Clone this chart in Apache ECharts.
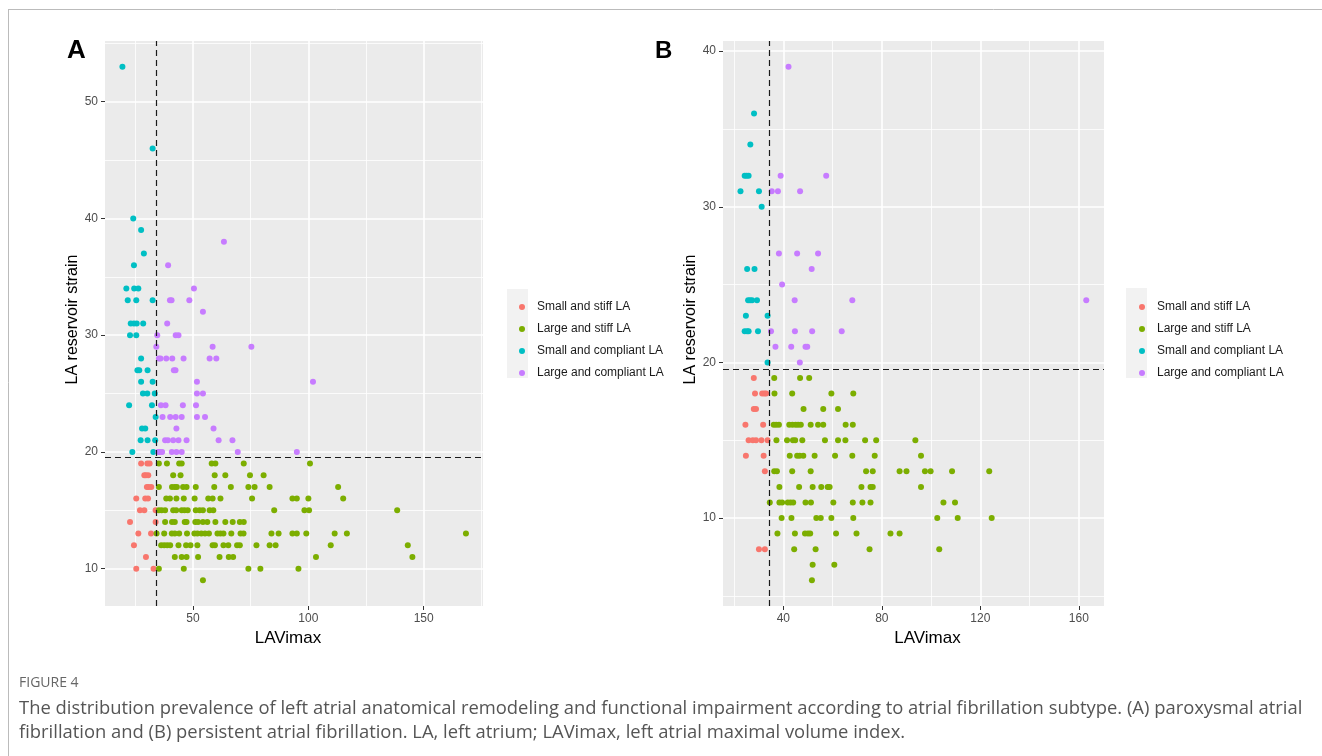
<!DOCTYPE html>
<html><head><meta charset="utf-8">
<script src="https://cdn.jsdelivr.net/npm/echarts@6/dist/echarts.min.js"></script>
<style>html,body{margin:0;padding:0;background:#fff;}#c{width:1322px;height:756px;}</style>
</head><body><div id="c"></div><script>
const seriesNames = ['Small and stiff LA','Large and stiff LA','Small and compliant LA','Large and compliant LA'];
const colors = ['#F8766D','#7CAE00','#00BFC4','#C77CFF'];

// Panel A (paroxysmal AF): rows of [LA reservoir strain, [LAVimax values]]
const aSmallStiff = [
  [19,[27.5,30.2,31.2]],[18,[28.9,29.6,30.6]],[17,[30,30.8,31.9]],[16,[25.4,29.3,30.5]],
  [15,[27,28.9,33.8]],[14,[22.7,33.8]],[13,[26.3,31.8]],[12,[24.4]],[11,[29.6]],[10,[25.4,32.9]]
];
const aLargeStiff = [
  [19,[35.2,38.7,44,45.1,58.1,59.7,72,100.7]],
  [18,[41.4,44.6,59.4,64,74.7,80.6]],
  [17,[35.2,40.9,42.1,43,45.7,47.2,51.2,59.2,66.4,74,76.7,83.2,112.9]],
  [16,[38.4,40,42.8,46,50.7,56.6,58.5,61.9,75.6,93.1,95,100,115.1]],
  [15,[35.2,36.4,37.9,41.4,42.7,45.1,46.3,47.7,51.2,52.9,54.3,57.2,58.8,85.2,98.3,100.3,138.5]],
  [14,[37.9,40.9,42.1,46.4,47.2,51,52.2,54.3,56.2,59.7,64,67.2,70.3,72]],
  [13,[34.2,37.5,40.8,42.1,44,47.4,50.6,51.9,53.6,55.2,56.9,60.6,61.9,63.2,66.6,70.6,71.9,84,87.1,93.1,95,99.1,111.4,116.7,168.3]],
  [12,[36.2,37.5,38.8,40.1,43.7,47,48.9,51.9,58.5,59.5,63.2,65.3,69.1,70.3,77.5,83.2,85.8,109.7,143.1]],
  [11,[42.1,45.1,47.2,52.2,61.5,65.5,67.4,103.3,145.1]],
  [10,[35.2,46,74,79.2,95.7]],
  [9,[54.3]]
];
const aSmallCompliant = [
  [53,[19.4]],[46,[32.5]],[40,[24.1]],[39,[27.5]],[37,[28.7]],[36,[24.4]],
  [34,[21.1,24.5,26.3]],[33,[21.7,25.4,32.5]],[31,[23,24.4,25.6,28.4]],[30,[22.7,25.4]],
  [28,[27.5]],[27,[25.9,26.7,30.3]],[26,[27.5,32.5]],[25,[28.3,30.2,33.4]],[24,[22.3,32.2]],
  [23,[33.8]],[22,[27.9,29.3]],[21,[27.3,30.3,33.6]],[20,[23.7,32.8]]
];
const aLargeCompliant = [
  [38,[63.4]],[36,[39.2]],[34,[50.4]],[33,[40,40.7,48.4]],[32,[54.3]],[31,[38.8]],
  [30,[34.5,42.5,43.7]],[29,[34.1,58.5,75.3]],[28,[35.2,35.9,38.4,41,45.9,57.2,60.1]],
  [27,[41.7,42.4]],[26,[51.7,102]],[25,[51.7,54.3]],[24,[36.1,38.1,45.6,51.3]],
  [23,[36.8,40.1,42.5,45.1,51.7,55.2]],[22,[42.8,58.9]],
  [21,[37.9,39.1,41.4,43.7,47.2,61.1,67.1]],[20,[34.9,35.6,36.6,40.8,42.8,45.1,69.4,95]]
];

// Panel B (persistent AF)
const bSmallStiff = [
  [19,[28]],[18,[28.5,31.4,32.3,33]],[17,[28,28.9]],[16,[24.6,31.8]],
  [15,[25.9,27.6,28.9,31.1,33.6]],[14,[24.8,32]],[13,[32.5]],[8,[30.1,32.5]]
];
const bLargeStiff = [
  [19,[36.3,46.8,50.5]],[18,[36.4,43.6,59.5,68.4]],[17,[48.2,56.2,62.2]],
  [16,[36.1,37.1,38.2,42.4,43.7,45,46,47.1,51.1,54.1,56.2,65.3,68.2]],
  [15,[37.2,41.5,43.9,44.8,47.7,56.9,62.2,65.2,73.2,77.7,93.6]],
  [14,[42.6,45.6,46.6,48.1,52.7,61,68,77.1,95.9]],
  [13,[36.3,37.4,43.6,51.1,73.6,76.3,87.2,90,97.5,99.8,108.5,123.6]],
  [12,[38.4,46.4,51.9,55.4,58,58.8,71.7,75.4,76.3,95.9]],
  [11,[34.5,38.4,39.5,41.8,42.9,44,49,51.2,60.3,68.2,72.1,75.4,105,109.7]],
  [10,[39.3,43.3,53.4,55.2,59.5,68.4,102.5,110.8,124.6]],
  [9,[37.6,44.7,48.8,50,50.9,61.4,69.7,83.5,87.2]],
  [8,[44.4,53.1,75,103.3]],[7,[51.9,60.7]],[6,[51.6]]
];
const bSmallCompliant = [
  [36,[28.1]],[34,[26.6]],[32,[24.3,25.1,25.9]],[31,[22.6,30.1]],[30,[31.2]],
  [26,[25.3,28.3]],[24,[25.7,26.5,27.3,29.3]],[23,[24.8,33.6]],[22,[24.3,25.3,25.9,29.7]],[20,[33.6]]
];
const bLargeCompliant = [
  [39,[42.1]],[32,[38.9,57.4]],[31,[35.3,37.8,46.8]],[27,[38.2,45.6,54.1]],[26,[51.5]],
  [25,[39.5]],[24,[44.6,68,163]],[22,[35,44.7,51.7,63.7]],[21,[36.8,43.2,49,49.7]],[20,[46.7]]
];

// Axis ticks / grid breaks
const aXTicks = [50,100,150], aXMinor = [25,75,125,175];
const aYTicks = [10,20,30,40,50], aYMinor = [15,25,35,45,55];
const bXTicks = [40,80,120,160], bXMinor = [20,60,100,140];
const bYTicks = [10,20,30,40], bYMinor = [5,15,25,35];
const aRange = {xMin:11.85, xMax:175.7, yMin:6.8, yMax:55.2};
const bRange = {xMin:15.5, xMax:170.2, yMin:4.35, yMax:40.65};
// Dashed cut-off lines
const aCut = {x:34.2, y:19.5};
const bCut = {x:34.1, y:19.55};

const FONT = "'Liberation Sans', Arial, Helvetica, sans-serif";
const CAP = "'Open Sans', sans-serif";
const flat = rows => rows.flatMap(([y, xs]) => xs.map(x => [x, y]));

function gridLines(xt, xm, yt, ym) {
  const major = {color:'#FFFFFF', width:1.6, type:'solid'};
  const minor = {color:'#FFFFFF', width:0.8, type:'solid'};
  return {
    silent:true, symbol:['none','none'], label:{show:false}, z:1, animation:false,
    data: [
      ...xm.map(v => ({xAxis:v, lineStyle:minor})),
      ...ym.map(v => ({yAxis:v, lineStyle:minor})),
      ...xt.map(v => ({xAxis:v, lineStyle:major})),
      ...yt.map(v => ({yAxis:v, lineStyle:major}))
    ]
  };
}
function cutLines(c) {
  const st = {color:'#1a1a1a', width:1.2, type:[6,4]};
  return {
    silent:true, symbol:['none','none'], label:{show:false}, z:6, animation:false,
    data: [{xAxis:c.x, lineStyle:st}, {yAxis:c.y, lineStyle:st}]
  };
}
function xAxisOpt(idx, r, ticks, pad) {
  return {
    type:'value', gridIndex:idx, min:r.xMin, max:r.xMax,
    splitLine:{show:false}, axisLine:{show:false},
    axisTick:{show:true, customValues:ticks, length:4, lineStyle:{color:'#333', width:1}},
    axisLabel:{customValues:ticks, color:'#4D4D4D', fontSize:12, margin:7, fontFamily:FONT},
    name:'LAVimax', nameLocation:'middle', nameGap:21,
    nameTextStyle:{fontSize:17, color:'#000', fontFamily:FONT, padding:pad}
  };
}
function yAxisOpt(idx, r, ticks) {
  return {
    type:'value', gridIndex:idx, min:r.yMin, max:r.yMax,
    splitLine:{show:false}, axisLine:{show:false},
    axisTick:{show:true, customValues:ticks, length:4, lineStyle:{color:'#333', width:1}},
    axisLabel:{customValues:ticks, color:'#4D4D4D', fontSize:12, margin:7, fontFamily:FONT},
    name:'LA reservoir strain', nameLocation:'middle', nameGap:21,
    nameTextStyle:{fontSize:16, color:'#000', fontFamily:FONT, padding:[0,0,0,8]}
  };
}

const panels = [
  {groups:[aSmallStiff,aLargeStiff,aSmallCompliant,aLargeCompliant], grid:[aXTicks,aXMinor,aYTicks,aYMinor], cut:aCut},
  {groups:[bSmallStiff,bLargeStiff,bSmallCompliant,bLargeCompliant], grid:[bXTicks,bXMinor,bYTicks,bYMinor], cut:bCut}
];
const series = [];
panels.forEach((p, pi) => {
  p.groups.forEach((g, gi) => {
    const s = {
      type:'scatter', name:seriesNames[gi], xAxisIndex:pi, yAxisIndex:pi,
      data:flat(g), symbol:'circle', symbolSize:6, z:3,
      itemStyle:{color:colors[gi], opacity:1}, animation:false
    };
    if (gi === 0) s.markLine = gridLines(...p.grid);
    if (gi === 1) s.markLine = cutLines(p.cut);
    series.push(s);
  });
});

const legendBase = {
  orient:'vertical', data:seriesNames, icon:'circle', itemWidth:6, itemHeight:6, itemGap:8,
  selectedMode:false,
  textStyle:{fontSize:12, color:'#1a1a1a', lineHeight:14, fontFamily:FONT, padding:[0,0,0,7]}
};

const chart = echarts.init(document.getElementById('c'), null, {renderer:'canvas'});
chart.setOption({
  animation:false,
  textStyle:{fontFamily:FONT},
  grid:[
    {left:105, top:41, width:378, height:565, show:true, backgroundColor:'#EBEBEB', borderWidth:0},
    {left:723, top:41, width:381, height:565, show:true, backgroundColor:'#EBEBEB', borderWidth:0}
  ],
  xAxis:[xAxisOpt(0, aRange, aXTicks, [0,12,0,0]), xAxisOpt(1, bRange, bXTicks, [0,0,0,28])],
  yAxis:[yAxisOpt(0, aRange, aYTicks), yAxisOpt(1, bRange, bYTicks)],
  legend:[
    Object.assign({}, legendBase, {left:514, top:295}),
    Object.assign({}, legendBase, {left:1134, top:295})
  ],
  series:series,
  graphic:[
    {type:'line', shape:{x1:8, y1:9.5, x2:1322, y2:9.5}, style:{stroke:'#BBBBBB', lineWidth:1}, silent:true},
    {type:'line', shape:{x1:8.5, y1:9, x2:8.5, y2:756}, style:{stroke:'#BBBBBB', lineWidth:1}, silent:true},
    {type:'rect', shape:{x:507, y:289, width:21, height:89}, style:{fill:'#F2F2F2'}, z:-1, silent:true},
    {type:'rect', shape:{x:1126, y:288, width:21, height:90}, style:{fill:'#F2F2F2'}, z:-1, silent:true},
    {type:'text', left:67, top:38, style:{text:'A', fontSize:26, fontWeight:'bold', fill:'#000', fontFamily:FONT}},
    {type:'text', left:655, top:39, style:{text:'B', fontSize:24, fontWeight:'bold', fill:'#000', fontFamily:FONT}},
    {type:'text', left:19, top:676, style:{text:'FIGURE 4', fontSize:14, fill:'#666', fontFamily:CAP}},
    {type:'text', left:19, top:700, style:{text:'The distribution prevalence of left atrial anatomical remodeling and functional impairment according to atrial fibrillation subtype. (A) paroxysmal atrial', fontSize:18.4, fill:'#555', fontFamily:CAP}},
    {type:'text', left:19, top:724, style:{text:'fibrillation and (B) persistent atrial fibrillation. LA, left atrium; LAVimax, left atrial maximal volume index.', fontSize:18.4, fill:'#555', fontFamily:CAP}}
  ]
});
</script></body></html>
